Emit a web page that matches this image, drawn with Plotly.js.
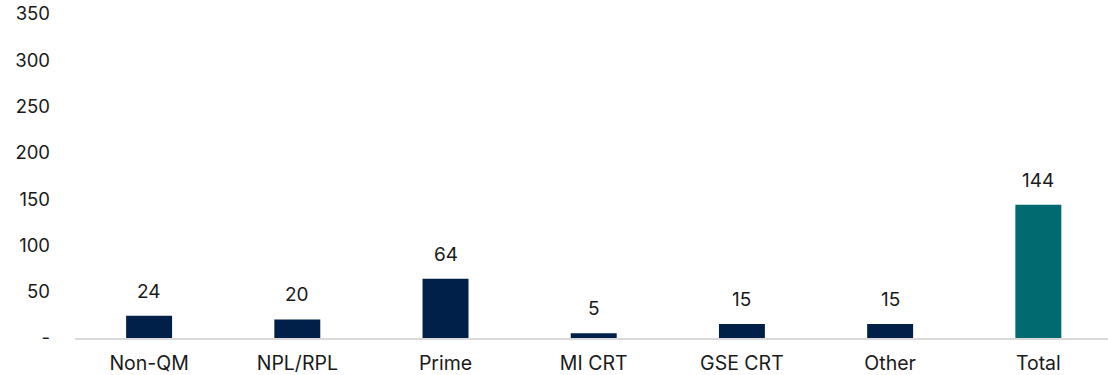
<!DOCTYPE html>
<html>
<head>
<meta charset="utf-8">
<script src="https://cdn.plot.ly/plotly-3.0.1.min.js"></script>
<style>html,body{margin:0;padding:0;background:#fff}#chart{width:1108px;height:375px}</style>
</head>
<body>
<div id="chart"></div>
<script>
const categories = ["Non-QM", "NPL/RPL", "Prime", "MI CRT", "GSE CRT", "Other", "Total"];
const values = [24, 20, 64, 5, 15, 15, 144];
const barColors = ["#00204a", "#00204a", "#00204a", "#00204a", "#00204a", "#00204a", "#006a70"];
const yTickVals = [0, 50, 100, 150, 200, 250, 300, 350];
const yTickText = ["-", "50", "100", "150", "200", "250", "300", "350"];

const font = "Inter, 'Liberation Sans', Arial, sans-serif";

const trace = {
  type: "bar",
  x: categories,
  y: values,
  marker: {color: barColors},
  width: 0.31,
  hoverinfo: "x+y"
};

const annotations = categories.map((c, i) => ({
  x: c, y: values[i], text: String(values[i]),
  showarrow: false, yanchor: "bottom", yshift: 11,
  font: {family: font, size: 19, color: "#1a1a1a"}
}));

const layout = {
  width: 1108, height: 375,
  margin: {l: 75, r: 0, t: 14, b: 37},
  paper_bgcolor: "#fff", plot_bgcolor: "#fff",
  showlegend: false,
  font: {family: font, size: 18, color: "#1a1a1a"},
  xaxis: {
    type: "category",
    range: [-0.5, 6.47],
    showline: true, linecolor: "#d9d9d9", linewidth: 2,
    ticks: "", showgrid: false, zeroline: false,
    ticklabelstandoff: 7,
    tickfont: {family: font, size: 19.5, color: "#1a1a1a"}
  },
  yaxis: {
    range: [0, 350],
    tickvals: yTickVals, ticktext: yTickText,
    showgrid: false, zeroline: false, showline: false, ticks: "",
    ticklabelstandoff: 24,
    tickfont: {family: font, size: 18.5, color: "#1a1a1a"}
  },
  annotations: annotations
};

Plotly.newPlot("chart", [trace], layout, {displayModeBar: false, staticPlot: true});
</script>
</body>
</html>
